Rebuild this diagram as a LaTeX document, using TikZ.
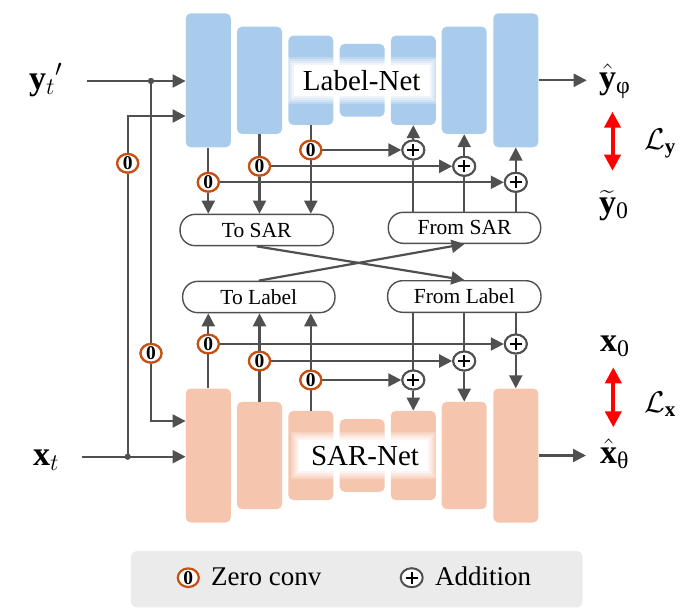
\RequirePackage{fix-cm}
\documentclass[tikz,border=0pt]{standalone}
\usepackage{amsmath}
\usepackage{fontspec}
\setmainfont{Liberation Serif}
\usetikzlibrary{arrows.meta,calc,shapes.geometric}
\definecolor{blueblk}{RGB}{169,203,236}
\definecolor{peach}{RGB}{246,197,174}
\definecolor{linecol}{RGB}{80,80,80}
\definecolor{zcol}{RGB}{197,80,17}
\definecolor{legendbg}{RGB}{235,235,235}
\begin{document}
\begin{tikzpicture}[x=1pt,y=-1pt,
  line/.style={draw=linecol, line width=2.2pt},
  arr/.style={line, -{Triangle[length=13pt,width=13pt]}},
  tblk/.style={fill=blueblk, rounded corners=5pt, minimum width=45pt, inner sep=0pt},
  bblk/.style={fill=peach, rounded corners=5pt, minimum width=45pt, inner sep=0pt},
  zc/.style={ellipse, draw=zcol, line width=2.2pt, fill=white, minimum width=21pt, minimum height=18pt, inner sep=0pt, font=\fontsize{19.5}{19.5}\selectfont\bfseries},
  add/.style={ellipse, draw=linecol, line width=2pt, fill=white, minimum width=22pt, minimum height=19pt, inner sep=0pt,
    path picture={\draw[black, line width=2pt] ([xshift=-6pt]path picture bounding box.center) -- ([xshift=6pt]path picture bounding box.center) ([yshift=-6pt]path picture bounding box.center) -- ([yshift=6pt]path picture bounding box.center);}},
  pill/.style={draw=linecol, line width=1.4pt, rounded corners=15pt, fill=white, inner sep=0pt, font=\fontsize{21.5}{24}\selectfont},
  mlab/.style={anchor=base west, inner sep=0pt, font=\fontsize{34}{36}\selectfont},
  netlab/.style={inner sep=0pt, font=\fontsize{29}{32}\selectfont},
  lossarr/.style={draw=red, line width=4pt, {Triangle[length=16pt,width=16pt]}-{Triangle[length=16pt,width=16pt]}},
  dot/.style={circle, fill=linecol, inner sep=0pt, minimum size=6pt}
]
\useasboundingbox (0,0) rectangle (691,611);

% ---------- Label-Net blocks ----------
\node[tblk, minimum height=134pt]   (t1) at (208.3,80.3) {};
\node[tblk, minimum height=107.3pt] (t2) at (259.5,80.3) {};
\node[tblk, minimum height=89.3pt]  (t3) at (310.8,80.3) {};
\node[tblk, minimum height=72.7pt]  (t4) at (362.2,80.3) {};
\node[tblk, minimum height=89.3pt]  (t5) at (413.3,80.3) {};
\node[tblk, minimum height=107.3pt] (t6) at (464.2,80.3) {};
\node[tblk, minimum height=134pt]   (t7) at (515.8,80.3) {};
% ---------- SAR-Net blocks ----------
\node[bblk, minimum height=134pt]   (b1) at (208.3,455.5) {};
\node[bblk, minimum height=107.3pt] (b2) at (259.5,455.5) {};
\node[bblk, minimum height=89.3pt]  (b3) at (310.8,455.5) {};
\node[bblk, minimum height=72.7pt]  (b4) at (362.2,455.5) {};
\node[bblk, minimum height=89.3pt]  (b5) at (413.3,455.5) {};
\node[bblk, minimum height=107.3pt] (b6) at (464.2,455.5) {};
\node[bblk, minimum height=134pt]   (b7) at (515.8,455.5) {};

% glows
\foreach \e/\o in {8/0.25,6/0.3,4/0.35,2/0.5}{
  \fill[white, opacity=\o] (294-\e,65-\e) rectangle (430+\e,96+\e);
  \fill[white, opacity=\o] (299-\e,440-\e) rectangle (428+\e,471+\e);
}
\fill[white] (294,65) rectangle (430,96);
\fill[white] (299,440) rectangle (428,471);
\node[netlab] (lnet) at (361.7,81) {Label-Net};
\node[netlab] (snet) at (365,456) {SAR-Net};

% ---------- pills ----------
\node[pill, minimum width=153.3pt, minimum height=31.3pt] (tosar) at (256.7,230) {To SAR};
\node[pill, minimum width=152.4pt, minimum height=31pt] (fromsar) at (464.5,227.8) {From SAR};
\node[pill, minimum width=152.3pt, minimum height=31.3pt] (tolabel) at (258.8,297) {To Label};
\node[pill, minimum width=153.3pt, minimum height=31.6pt] (fromlabel) at (464.3,296.5) {From Label};

% ---------- zero convs and additions (top) ----------
\node[zc] (zt1) at (208.3,182.3) {0};
\node[zc] (zt2) at (259.5,166.3) {0};
\node[zc] (zt3) at (310.8,150) {0};
\node[add] (at1) at (413.3,150) {};
\node[add] (at2) at (464.2,166.3) {};
\node[add] (at3) at (515.8,182.3) {};
% ---------- zero convs and additions (bottom) ----------
\node[zc] (zb1) at (208.3,344) {0};
\node[zc] (zb2) at (259.5,361) {0};
\node[zc] (zb3) at (310.8,380) {0};
\node[add] (ab1) at (413.3,380) {};
\node[add] (ab2) at (464.2,361) {};
\node[add] (ab3) at (515.8,344) {};

% ---------- inputs ----------
\node[mlab] (yt) at (29,89) {$\mathbf{y}_t{}'$};
\node[mlab] (xt) at (33,465) {$\mathbf{x}_t$};
\coordinate (yin) at (86.7,81);
\coordinate (xin) at (81.7,456.7);
\node[dot] (j1) at (151,81) {};
\node[dot] (j2) at (127.7,456.7) {};
\node[zc] (za) at (127.7,163.3) {0};
\node[zc] (zb) at (151,353.3) {0};
\coordinate (ta) at (127.7,116);
\coordinate (bb) at (151,421);

\draw[arr] (yin) -- (t1.west |- yin);
\draw[arr] (xin) -- (b1.west |- xin);
\draw[line] (j2) -- (za.south);
\draw[arr] (za.north) -- (ta) -- (t1.west |- ta);
\draw[line] (j1) -- (zb.north);
\draw[arr] (zb.south) -- (bb) -- (b1.west |- bb);
\node[dot] at (j1) {};
\node[dot] at (j2) {};

% ---------- top section connectors ----------
\draw[line] (t1.south) -- (zt1.north);
\draw[arr] (zt1.south) -- (tosar.north -| zt1);
\draw[line] (t2.south) -- (zt2.north);
\draw[arr] (zt2.south) -- (tosar.north -| zt2);
\draw[line] (t3.south) -- (zt3.north);
\draw[arr] (zt3.south) -- (tosar.north -| zt3);
\draw[arr] (zt3) -- (at1);
\draw[arr] (zt2) -- (at2);
\draw[arr] (zt1) -- (at3);
\draw[line] (fromsar.north -| at1) -- (at1.south);
\draw[arr] (at1.north) -- (t5.south);
\draw[line] (fromsar.north -| at2) -- (at2.south);
\draw[arr] (at2.north) -- (t6.south);
\draw[line] (fromsar.north -| at3) -- (at3.south);
\draw[arr] (at3.north) -- (t7.south);

% ---------- crossing ----------
\draw[arr] (tosar.south) -- (fromlabel.north);
\draw[arr] (tolabel.north) -- (fromsar.south);

% ---------- bottom section connectors ----------
\draw[line] (b1.north) -- (zb1.south);
\draw[arr] (zb1.north) -- (tolabel.south -| zb1);
\draw[line] (b2.north) -- (zb2.south);
\draw[arr] (zb2.north) -- (tolabel.south -| zb2);
\draw[line] (b3.north) -- (zb3.south);
\draw[arr] (zb3.north) -- (tolabel.south -| zb3);
\draw[arr] (zb1) -- (ab3);
\draw[arr] (zb2) -- (ab2);
\draw[arr] (zb3) -- (ab1);
\draw[line] (fromlabel.south -| ab1) -- (ab1.north);
\draw[arr] (ab1.south) -- (b5.north);
\draw[line] (fromlabel.south -| ab2) -- (ab2.north);
\draw[arr] (ab2.south) -- (b6.north);
\draw[line] (fromlabel.south -| ab3) -- (ab3.north);
\draw[arr] (ab3.south) -- (b7.north);

% redraw nodes on top of lines
\node[zc] at (zt1) {0}; \node[zc] at (zt2) {0}; \node[zc] at (zt3) {0};
\node[zc] at (zb1) {0}; \node[zc] at (zb2) {0}; \node[zc] at (zb3) {0};
\node[zc] at (za) {0}; \node[zc] at (zb) {0};
\node[add] at (at1) {}; \node[add] at (at2) {}; \node[add] at (at3) {};
\node[add] at (ab1) {}; \node[add] at (ab2) {}; \node[add] at (ab3) {};

% ---------- outputs ----------
\coordinate (yout) at (586.7,80.3);
\coordinate (xout) at (586,455.5);
\draw[arr] (t7.east) -- (yout);
\draw[arr] (b7.east) -- (xout);
\node[mlab] (yhat) at (599,88) {$\hat{\mathbf{y}}_{\text{φ}}$};
\node[mlab] (ytil) at (599,213) {$\widetilde{\mathbf{y}}_{\text{0}}$};
\node[mlab] (xzero) at (600,351.5) {$\mathbf{x}_{\text{0}}$};
\node[mlab] (xhat) at (600,463) {$\hat{\mathbf{x}}_{\text{θ}}$};
\node[mlab, font=\fontsize{30}{32}\selectfont] (ly) at (644,149) {$\mathcal{L}_{\mathbf{y}}$};
\node[mlab, font=\fontsize{30}{32}\selectfont] (lx) at (644,412) {$\mathcal{L}_{\mathbf{x}}$};
\coordinate (ly1) at (612.5,111.7);
\coordinate (ly2) at (612.5,170.7);
\coordinate (lx1) at (613.3,367.3);
\coordinate (lx2) at (613.3,427.3);
\draw[lossarr] (ly1) -- (ly2);
\draw[lossarr] (lx1) -- (lx2);

% ---------- legend ----------
\node[fill=legendbg, rounded corners=6pt, minimum width=451.7pt, minimum height=56.3pt, inner sep=0pt] (legend) at (356.8,579.2) {};
\node[zc] (lz) at (188.3,577.7) {0};
\node[anchor=base west, inner sep=0pt, font=\fontsize{27}{30}\selectfont] (lzt) at (211,585) {Zero conv};
\node[add] (la) at (411.7,577.7) {};
\node[anchor=base west, inner sep=0pt, font=\fontsize{27}{30}\selectfont] (lat) at (435,585) {Addition};
\end{tikzpicture}
\end{document}
